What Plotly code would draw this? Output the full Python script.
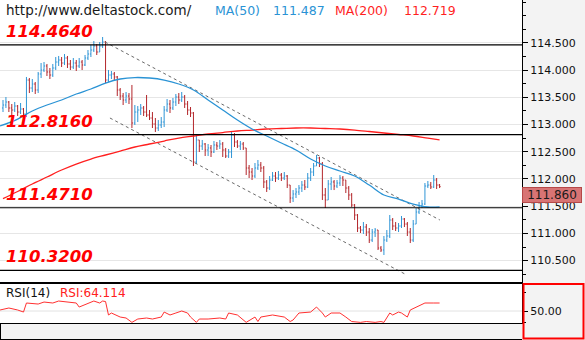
import plotly.graph_objects as go

# ---- price bars (USDJPY-style quotes) ----
opens = [
    113.305, 113.360, 113.415, 113.305, 113.268, 113.341, 113.231, 113.286, 113.194, 113.819,
    113.672, 113.746, 113.636, 113.930, 114.003, 114.077, 113.967, 113.911, 114.040, 114.150,
    114.187, 114.132, 114.224, 114.114, 114.058, 114.132, 114.077, 114.150, 114.095, 114.224,
    114.297, 114.371, 114.444, 114.334, 114.444, 114.518, 113.819, 113.911, 113.930, 113.875,
    113.636, 113.525, 113.452, 113.525, 113.470, 113.029, 113.231, 113.268, 113.305, 113.231,
    113.176, 113.121, 113.011, 112.937, 112.992, 113.047, 113.268, 113.378, 113.305, 113.415,
    113.507, 113.452, 113.507, 113.378, 113.268, 113.213, 112.312, 112.717, 112.606, 112.643,
    112.533, 112.570, 112.496, 112.625, 112.606, 112.643, 112.533, 112.422, 112.496, 112.808,
    112.680, 112.606, 112.643, 112.570, 112.202, 112.128, 112.055, 112.202, 112.257, 112.202,
    111.945, 111.834, 111.981, 112.055, 112.018, 112.073, 112.018, 112.055, 111.889, 111.650,
    111.724, 111.761, 111.834, 111.889, 111.853, 112.018, 112.128, 112.239, 112.386, 112.275,
    111.706, 111.614, 111.908, 111.945, 111.871, 111.926, 112.018, 111.981, 111.834, 111.706,
    111.522, 111.338, 111.099, 111.062, 111.117, 111.025, 110.878, 111.025, 111.062, 110.731,
    110.695, 110.878, 110.952, 111.246, 111.136, 111.099, 111.136, 111.264, 111.172, 111.025,
    110.878, 111.172, 111.393, 111.503, 111.540, 111.871, 111.889, 111.853, 111.981, 111.889,
]
highs = [
    113.452, 113.507, 113.433, 113.378, 113.415, 113.360, 113.397, 113.305, 113.875, 113.856,
    113.838, 113.783, 113.967, 114.132, 114.150, 114.114, 114.040, 114.114, 114.242, 114.261,
    114.242, 114.297, 114.261, 114.187, 114.224, 114.187, 114.224, 114.187, 114.279, 114.371,
    114.463, 114.536, 114.481, 114.518, 114.610, 114.536, 114.003, 113.985, 113.967, 113.893,
    113.672, 113.580, 113.599, 113.580, 113.728, 113.360, 113.341, 113.378, 113.341, 113.544,
    113.268, 113.231, 113.121, 113.084, 113.139, 113.341, 113.470, 113.452, 113.489, 113.562,
    113.580, 113.599, 113.544, 113.433, 113.323, 113.231, 112.808, 112.717, 112.717, 112.661,
    112.643, 112.625, 112.698, 112.680, 112.717, 112.680, 112.570, 112.551, 112.864, 112.845,
    112.717, 112.698, 112.680, 112.570, 112.257, 112.202, 112.294, 112.349, 112.312, 112.239,
    111.981, 112.055, 112.128, 112.128, 112.147, 112.110, 112.128, 112.073, 111.889, 111.797,
    111.834, 111.889, 111.963, 111.981, 112.110, 112.202, 112.294, 112.441, 112.404, 112.312,
    111.834, 111.981, 112.036, 111.981, 111.981, 112.073, 112.055, 111.981, 111.871, 111.742,
    111.540, 111.356, 111.136, 111.209, 111.172, 111.099, 111.081, 111.099, 111.062, 110.768,
    110.952, 111.062, 111.338, 111.283, 111.209, 111.191, 111.320, 111.283, 111.209, 111.099,
    111.246, 111.467, 111.577, 111.614, 111.926, 111.963, 111.945, 112.073, 112.018, 111.908,
]
lows = [
    113.231, 113.305, 113.231, 113.176, 113.231, 113.158, 113.194, 113.121, 113.139, 113.580,
    113.599, 113.562, 113.580, 113.856, 113.967, 113.893, 113.838, 113.875, 114.003, 114.077,
    114.058, 114.095, 114.040, 114.003, 114.022, 113.985, 114.040, 114.003, 114.077, 114.187,
    114.242, 114.334, 114.279, 114.334, 114.408, 113.764, 113.783, 113.838, 113.819, 113.525,
    113.452, 113.360, 113.397, 113.378, 112.937, 112.992, 113.047, 113.176, 113.158, 113.139,
    113.084, 112.937, 112.864, 112.882, 112.937, 112.955, 113.231, 113.213, 113.268, 113.341,
    113.378, 113.415, 113.305, 113.176, 113.139, 112.239, 112.275, 112.496, 112.533, 112.422,
    112.422, 112.404, 112.478, 112.533, 112.551, 112.404, 112.386, 112.386, 112.386, 112.588,
    112.570, 112.533, 112.533, 112.073, 112.018, 111.981, 112.018, 112.165, 112.128, 111.834,
    111.761, 111.797, 111.963, 111.945, 111.981, 111.963, 111.981, 111.834, 111.559, 111.577,
    111.650, 111.706, 111.761, 111.797, 111.834, 111.963, 112.055, 112.239, 112.220, 111.614,
    111.467, 111.614, 111.797, 111.797, 111.834, 111.871, 111.871, 111.742, 111.614, 111.485,
    111.246, 111.025, 111.007, 110.989, 110.952, 110.823, 110.842, 110.934, 110.695, 110.658,
    110.603, 110.842, 110.915, 111.062, 111.044, 111.025, 111.099, 111.117, 110.952, 110.823,
    110.842, 111.172, 111.356, 111.467, 111.522, 111.834, 111.816, 111.834, 111.816, 111.834,
]
closes = [
    113.360, 113.415, 113.305, 113.268, 113.341, 113.231, 113.286, 113.194, 113.819, 113.672,
    113.746, 113.636, 113.930, 114.003, 114.077, 113.967, 113.911, 114.040, 114.150, 114.187,
    114.132, 114.224, 114.114, 114.058, 114.132, 114.077, 114.150, 114.095, 114.224, 114.297,
    114.371, 114.444, 114.334, 114.444, 114.518, 113.819, 113.911, 113.930, 113.875, 113.636,
    113.525, 113.452, 113.525, 113.470, 113.029, 113.231, 113.268, 113.305, 113.231, 113.176,
    113.121, 113.011, 112.937, 112.992, 113.047, 113.268, 113.378, 113.305, 113.415, 113.507,
    113.452, 113.507, 113.378, 113.268, 113.213, 112.312, 112.717, 112.606, 112.643, 112.533,
    112.570, 112.496, 112.625, 112.606, 112.643, 112.533, 112.422, 112.496, 112.808, 112.680,
    112.606, 112.643, 112.570, 112.202, 112.128, 112.055, 112.202, 112.257, 112.202, 111.945,
    111.834, 111.981, 112.055, 112.018, 112.073, 112.018, 112.055, 111.889, 111.650, 111.724,
    111.761, 111.834, 111.889, 111.853, 112.018, 112.128, 112.239, 112.386, 112.275, 111.706,
    111.614, 111.908, 111.945, 111.871, 111.926, 112.018, 111.981, 111.834, 111.706, 111.522,
    111.338, 111.099, 111.062, 111.117, 111.025, 110.878, 111.025, 111.062, 110.731, 110.695,
    110.878, 110.952, 111.246, 111.136, 111.099, 111.136, 111.264, 111.172, 111.025, 110.878,
    111.172, 111.393, 111.503, 111.540, 111.871, 111.889, 111.853, 111.981, 111.889, 111.860,
]
bar_idx = list(range(len(closes)))

# labelled price scale
price_ticks = [110.5, 111.0, 111.5, 112.0, 112.5, 113.0, 113.5, 114.0, 114.5]

# ---- moving averages (bar index, value) ----
ma50_idx = [-1] + list(range(5, 150, 5)) + [149]
ma50 = [
    112.974, 113.102, 113.250, 113.360, 113.452, 113.562, 113.654, 113.764, 113.838, 113.865,
    113.856, 113.819, 113.746, 113.636, 113.452, 113.268, 113.084, 112.919, 112.790, 112.661,
    112.533, 112.367, 112.239, 112.147, 112.055, 111.889, 111.706, 111.632, 111.540, 111.485,
    111.487,
]
ma200_idx = list(range(0, 150, 5)) + [149]
ma200 = [
    111.640, 111.770, 111.908, 112.036, 112.165, 112.275, 112.367, 112.441, 112.514, 112.588,
    112.643, 112.698, 112.753, 112.790, 112.827, 112.854, 112.882, 112.900, 112.919, 112.928,
    112.937, 112.937, 112.928, 112.919, 112.900, 112.873, 112.845, 112.818, 112.790, 112.750,
    112.719,
]

# ---- RSI(14) ----
rsi_idx = [
    -1, 2, 5, 7, 8, 12, 14, 17, 19, 22, 25, 26, 29, 31, 33, 34, 35, 36, 37, 40,
    42, 44, 46, 49, 51, 54, 55, 57, 59, 61, 63, 64, 66, 67, 70, 74, 76, 77, 80, 83,
    86, 87, 88, 92, 96, 98, 99, 101, 105, 107, 109, 110, 112, 115, 117, 119, 122, 124, 127, 129,
    130, 132, 133, 135, 136, 138, 139, 141, 144, 147, 149,
]
rsi = [
    51.8, 55.3, 51.8, 48.2, 64.1, 62.3, 65.8, 64.1, 67.6, 65.8,
    64.1, 57.0, 64.1, 67.6, 64.1, 67.6, 66.7, 43.0, 46.5, 39.4,
    37.7, 30.0, 35.9, 37.7, 35.9, 39.4, 48.2, 43.0, 46.5, 50.0,
    46.5, 39.4, 30.0, 35.9, 35.9, 37.7, 35.9, 46.5, 43.0, 30.0,
    39.4, 31.5, 39.4, 43.0, 39.4, 31.5, 34.2, 46.5, 48.2, 57.0,
    46.5, 39.4, 46.5, 46.5, 39.4, 31.5, 30.0, 31.5, 30.0, 31.5,
    30.0, 46.5, 43.0, 48.2, 46.5, 39.4, 51.8, 57.0, 64.1, 64.1,
    64.114,
]

# ---- support / resistance levels and trend channel ----
levels = [114.464, 112.816, 111.471, 110.320]
channel_upper_idx = [34.8, 149.1]
channel_upper = [114.518, 111.246]
channel_lower_idx = [36.5, 137.2]
channel_lower = [113.121, 110.253]

UP = "#2f95d6"
DOWN = "#b3262b"
MA50_C = "#2a93d5"
MA200_C = "#ff1f1f"
FONT = "DejaVu Sans"

# plot area is 522 x 323 px; helpers for placing text in pixels
PW, PH = 522.0, 323.0
def px(x):
    return x / PW
def py(y):
    return (PH - y) / PH

X_RANGE = [-1.024, 177.13]
MAIN_DOM = [0.1238, 1.0]

fig = go.Figure()

fig.add_trace(go.Scatter(x=channel_upper_idx, y=channel_upper, mode="lines",
                         line=dict(color="#6a6a6a", width=1, dash="dot"), hoverinfo="skip"))
fig.add_trace(go.Scatter(x=channel_lower_idx, y=channel_lower, mode="lines",
                         line=dict(color="#6a6a6a", width=1, dash="dot"), hoverinfo="skip"))
fig.add_trace(go.Scatter(x=ma200_idx, y=ma200, mode="lines",
                         line=dict(color=MA200_C, width=1.3, shape="spline", smoothing=1.0),
                         hoverinfo="skip"))
fig.add_trace(go.Scatter(x=ma50_idx, y=ma50, mode="lines",
                         line=dict(color=MA50_C, width=1.3, shape="spline", smoothing=1.0),
                         hoverinfo="skip"))
fig.add_trace(go.Ohlc(x=bar_idx, open=opens, high=highs, low=lows, close=closes,
                      increasing=dict(line=dict(color=UP, width=1)),
                      decreasing=dict(line=dict(color=DOWN, width=1)),
                      tickwidth=0.35, hoverinfo="skip"))
fig.add_trace(go.Scatter(x=rsi_idx, y=rsi, mode="lines", xaxis="x2", yaxis="y2",
                         line=dict(color="#ff3030", width=1), hoverinfo="skip"))

shapes = []
for lvl in levels:
    shapes.append(dict(type="line", xref="paper", yref="y", x0=0, x1=1, y0=lvl, y1=lvl,
                       line=dict(color="black", width=1.2)))
# RSI mid line
shapes.append(dict(type="line", xref="paper", yref="y2", x0=0, x1=1, y0=50, y1=50,
                   line=dict(color="#e2e2e2", width=1), layer="below"))
# frame of the lower strip
shapes.append(dict(type="line", xref="paper", yref="paper", x0=0, x1=1,
                   y0=py(339.5), y1=py(339.5), line=dict(color="black", width=1)))
shapes.append(dict(type="line", xref="paper", yref="paper", x0=px(0.5), x1=px(0.5),
                   y0=py(323), y1=py(340), line=dict(color="black", width=1)))
# highlighted RSI scale box
shapes.append(dict(type="rect", xref="paper", yref="paper", x0=px(523.5), x1=px(583.5),
                   y0=py(338.5), y1=py(284), line=dict(color="#ff0000", width=2)))

annotations = [
    dict(text="http://www.deltastock.com/", xref="paper", yref="paper", x=px(4), y=py(10),
         xanchor="left", yanchor="middle", showarrow=False,
         font=dict(family=FONT, size=13.5, color="#1a1a1a")),
    dict(text="MA(50)", xref="paper", yref="paper", x=px(213), y=py(10),
         xanchor="left", yanchor="middle", showarrow=False,
         font=dict(family=FONT, size=12.5, color=MA50_C)),
    dict(text=f"{ma50[-1]:.3f}", xref="paper", yref="paper", x=px(271), y=py(10),
         xanchor="left", yanchor="middle", showarrow=False,
         font=dict(family=FONT, size=12.5, color=MA50_C)),
    dict(text="MA(200)", xref="paper", yref="paper", x=px(333), y=py(10),
         xanchor="left", yanchor="middle", showarrow=False,
         font=dict(family=FONT, size=12.5, color=MA200_C)),
    dict(text=f"{ma200[-1]:.3f}", xref="paper", yref="paper", x=px(402), y=py(10),
         xanchor="left", yanchor="middle", showarrow=False,
         font=dict(family=FONT, size=12.5, color=MA200_C)),
    dict(text="RSI(14)", xref="paper", yref="paper", x=px(4), y=py(293),
         xanchor="left", yanchor="middle", showarrow=False,
         font=dict(family=FONT, size=12, color="#111")),
    dict(text=f"RSI:{rsi[-1]:.3f}", xref="paper", yref="paper", x=px(58), y=py(293),
         xanchor="left", yanchor="middle", showarrow=False,
         font=dict(family=FONT, size=12, color="#ff2020")),
    dict(text=f"{closes[-1]:.3f}", xref="paper", yref="y", x=1.0, y=closes[-1],
         xanchor="left", yanchor="top", showarrow=False, width=58, height=14,
         bgcolor="#d87474", bordercolor="#b54848", borderwidth=1, borderpad=0,
         font=dict(family=FONT, size=12, color="#1a1a1a")),
]
for lvl in levels:
    annotations.append(dict(text=f"<b><i>{lvl:.4f}</i></b>", xref="paper", yref="y",
                            x=px(4), y=lvl, xanchor="left", yanchor="bottom", yshift=2,
                            showarrow=False, font=dict(family=FONT, size=16.5, color="#ff0000")))

fig.update_layout(
    width=585, height=340,
    margin=dict(l=0, r=63, t=0, b=17, pad=0),
    paper_bgcolor="#f3f3f3", plot_bgcolor="white",
    showlegend=False,
    xaxis=dict(domain=[0, 1], range=X_RANGE, anchor="y", showgrid=False, zeroline=False,
               showticklabels=False, ticks="", showline=True, linecolor="black",
               linewidth=1, mirror=True, rangeslider=dict(visible=False), fixedrange=True),
    yaxis=dict(domain=MAIN_DOM, range=[110.088, 115.290], anchor="x", side="right",
               tickmode="array", tickvals=price_ticks,
               ticktext=[f"{t:.3f}" for t in price_ticks], ticks="outside", ticklen=5,
               tickcolor="black", showgrid=True, gridcolor="#e6e6e6", gridwidth=1,
               zeroline=False, showline=True, linecolor="black", linewidth=1, mirror=True,
               tickfont=dict(family=FONT, size=11, color="#111"),
               minor=dict(dtick=0.25, tick0=0, ticks="outside", ticklen=3, tickcolor="black",
                          showgrid=False),
               fixedrange=True),
    xaxis2=dict(domain=[0, 1], range=X_RANGE, anchor="y2", showgrid=False, zeroline=False,
                showticklabels=False, ticks="", showline=True, linecolor="black",
                linewidth=1, mirror=True, fixedrange=True),
    yaxis2=dict(domain=[0, MAIN_DOM[0]], range=[28.9, 99.3], anchor="x2", side="right",
                tickvals=[50], ticktext=["50.00"], ticks="outside", ticklen=5,
                tickcolor="black", showgrid=False, zeroline=False, showline=True,
                linecolor="black", linewidth=1, mirror=True,
                tickfont=dict(family=FONT, size=11, color="#111"),
                minor=dict(tickvals=[30, 82], ticks="outside", ticklen=3, tickcolor="black",
                           showgrid=False),
                fixedrange=True),
    shapes=shapes,
    annotations=annotations,
)

fig.write_html("out.html", config={"displayModeBar": False})
